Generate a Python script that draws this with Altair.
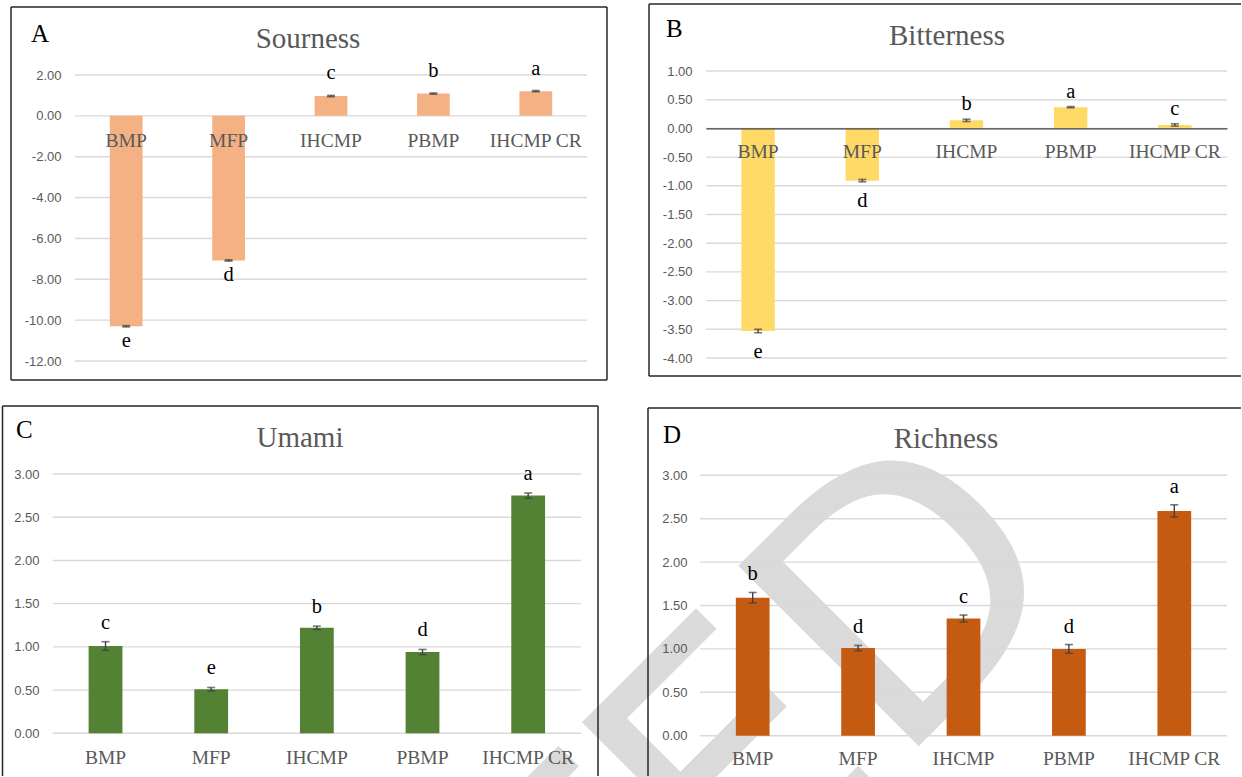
import altair as alt
import pandas as pd

# Sample groups shared by all four panels
groups = ["BMP", "MFP", "IHCMP", "PBMP", "IHCMP CR"]

# Taste scores (mean, error, significance letter)
sourness = [-10.30, -7.08, 0.97, 1.09, 1.21]
sourness_err = [0.03, 0.03, 0.03, 0.03, 0.03]
sourness_sig = ["e", "d", "c", "b", "a"]

bitterness = [-3.53, -0.91, 0.14, 0.37, 0.06]
bitterness_err = [0.03, 0.02, 0.02, 0.01, 0.02]
bitterness_sig = ["e", "d", "b", "a", "c"]

umami = [1.01, 0.51, 1.22, 0.94, 2.75]
umami_err = [0.05, 0.02, 0.02, 0.03, 0.03]
umami_sig = ["c", "e", "b", "d", "a"]

richness = [1.59, 1.01, 1.35, 1.00, 2.59]
richness_err = [0.06, 0.03, 0.04, 0.05, 0.07]
richness_sig = ["b", "d", "c", "d", "a"]

panel_letters = ["A", "B", "C", "D"]
panel_titles = ["Sourness", "Bitterness", "Umami", "Richness"]

sourness_ticks = [-12, -10, -8, -6, -4, -2, 0, 2]
bitterness_ticks = [-4, -3.5, -3, -2.5, -2, -1.5, -1, -0.5, 0, 0.5, 1]
score_ticks = [0, 0.5, 1, 1.5, 2, 2.5, 3]

watermark_text = "ACCEPTED"

# Layout of each panel cell (pixels inside its own cell)
LAYOUT = {
    "A": dict(w=628, h=392, xr=[75, 587], yr=[361, 75], yoff=-61, xoff=-276.1, xpad=15.2,
              zero_line=False, title_xy=(308, 48), letter_xy=(31, 42), dy_pos=-16, dy_neg=20,
              sides=[(11, 7, 607, 7), (11, 380, 607, 380), (11, 7, 11, 380), (607, 7, 607, 380)],
              wm=None),
    "B": dict(w=614, h=392, xr=[78, 599], yr=[358, 71], yoff=-64, xoff=-263.6, xpad=14.4,
              zero_line=True, title_xy=(319, 45), letter_xy=(38, 37), dy_pos=-9, dy_neg=25,
              sides=[(21, 4, 613, 4), (21, 376, 613, 376), (21, 4, 21, 376)],
              wm=None),
    "C": dict(w=628, h=385, xr=[52.7, 581], yr=[341.3, 82], yoff=-39, xoff=-43.7, xpad=14.8,
              zero_line=False, title_xy=(300, 55), letter_xy=(16, 46), dy_pos=-13, dy_neg=20,
              sides=[(2.5, 14, 598, 14), (2.5, 14, 2.5, 384), (598, 14, 598, 384)],
              wm=(1085, 188)),
    "D": dict(w=614, h=385, xr=[72, 599], yr=[343.7, 83.3], yoff=-59, xoff=-41.3, xpad=14.1,
              zero_line=False, title_xy=(318, 56), letter_xy=(35, 51), dy_pos=-12, dy_neg=20,
              sides=[(20, 16, 613, 16), (20, 16, 20, 384)],
              wm=(457, 188)),
}

GRAY_TEXT = "#595959"
ERR_COLOR = "#404040"


def make_panel(key, values, errs, sigs, title, ticks, color):
    lay = LAYOUT[key]
    df = pd.DataFrame({"group": groups, "value": values, "err": errs, "sig": sigs})
    df["lo"] = df["value"] - df["err"]
    df["hi"] = df["value"] + df["err"]

    xscale = alt.Scale(range=lay["xr"], paddingInner=0.68, paddingOuter=0.34)
    xaxis = alt.Axis(orient="bottom", offset=lay["xoff"], labelPadding=lay["xpad"],
                     ticks=False, tickSize=0, grid=False, domain=lay["zero_line"],
                     domainColor=ERR_COLOR, domainWidth=1.3, labelAngle=0,
                     labelFont="Liberation Serif", labelFontSize=19.5, labelColor=GRAY_TEXT,
                     labelOverlap=False, title=None, zindex=1)
    yscale = alt.Scale(domain=[ticks[0], ticks[-1]], range=lay["yr"], nice=False, zero=False)
    yaxis = alt.Axis(values=ticks, offset=lay["yoff"], labelPadding=0, ticks=False, tickSize=0,
                     grid=False, domain=False,
                     labelExpr="replace(format(datum.value, '.2f'), '\u2212', '-')",
                     labelFont="Liberation Sans", labelFontSize=13, labelColor=GRAY_TEXT,
                     labelOverlap=False, title=None, zindex=1)

    def X():
        return alt.X("group:N", sort=groups, scale=xscale, axis=xaxis)

    def Y(field):
        return alt.Y(f"{field}:Q", scale=yscale, axis=yaxis)

    layers = []
    one = pd.DataFrame({"t": [title]})

    # faint diagonal watermark, clipped to the cell
    if lay["wm"] is not None:
        wx, wy = lay["wm"]
        layers.append(
            alt.Chart(pd.DataFrame({"t": [watermark_text]}))
            .mark_text(font="DejaVu Sans", fontSize=350, color="#DADADA", angle=315,
                       align="right", baseline="alphabetic", clip=True)
            .encode(x=alt.value(wx), y=alt.value(wy), text="t:N")
        )

    # horizontal gridlines
    layers.append(
        alt.Chart(pd.DataFrame({"tick": ticks}))
        .mark_rule(color="#D9D9D9", strokeWidth=1.4)
        .encode(y=Y("tick"), x=alt.value(lay["xr"][0]), x2=alt.value(lay["xr"][1]))
    )

    base = alt.Chart(df)
    layers.append(base.mark_bar(color=color).encode(x=X(), y=Y("value"), y2=alt.datum(0)))
    layers.append(base.mark_rule(color=ERR_COLOR, strokeWidth=1.4)
                  .encode(x=X(), y=Y("lo"), y2=alt.Y2("hi:Q")))
    layers.append(base.mark_tick(color=ERR_COLOR, thickness=1.6, size=8).encode(x=X(), y=Y("lo")))
    layers.append(base.mark_tick(color=ERR_COLOR, thickness=1.6, size=8).encode(x=X(), y=Y("hi")))

    sig_style = dict(font="Liberation Serif", fontSize=20.5, color="black", baseline="alphabetic")
    layers.append(base.transform_filter("datum.value >= 0")
                  .mark_text(dy=lay["dy_pos"], **sig_style)
                  .encode(x=X(), y=Y("hi"), text="sig:N"))
    layers.append(base.transform_filter("datum.value < 0")
                  .mark_text(dy=lay["dy_neg"], **sig_style)
                  .encode(x=X(), y=Y("lo"), text="sig:N"))

    tx, ty = lay["title_xy"]
    layers.append(alt.Chart(one).mark_text(font="Liberation Serif", fontSize=29, color=GRAY_TEXT,
                                           align="center", baseline="alphabetic")
                  .encode(x=alt.value(tx), y=alt.value(ty), text="t:N"))
    lx, ly = lay["letter_xy"]
    layers.append(alt.Chart(pd.DataFrame({"t": [key]}))
                  .mark_text(font="Liberation Serif", fontSize=25, color="black",
                             align="left", baseline="alphabetic")
                  .encode(x=alt.value(lx), y=alt.value(ly), text="t:N"))

    # panel frame
    for (x1, y1, x2, y2) in lay["sides"]:
        layers.append(alt.Chart(one).mark_rule(color="#262626", strokeWidth=1.5)
                      .encode(x=alt.value(x1), x2=alt.value(x2), y=alt.value(y1), y2=alt.value(y2)))

    return alt.layer(*layers).properties(width=lay["w"], height=lay["h"])


pA = make_panel(panel_letters[0], sourness, sourness_err, sourness_sig, panel_titles[0],
                sourness_ticks, "#F4B183")
pB = make_panel(panel_letters[1], bitterness, bitterness_err, bitterness_sig, panel_titles[1],
                bitterness_ticks, "#FFD966")
pC = make_panel(panel_letters[2], umami, umami_err, umami_sig, panel_titles[2],
                score_ticks, "#548235")
pD = make_panel(panel_letters[3], richness, richness_err, richness_sig, panel_titles[3],
                score_ticks, "#C55A11")

row1 = alt.hconcat(pA, pB, spacing=0, bounds="flush")
row2 = alt.hconcat(pC, pD, spacing=0, bounds="flush")
chart = (
    alt.vconcat(row1, row2, spacing=0)
    .properties(padding=0, background="white")
    .configure_view(strokeWidth=0)
)

chart.save("out.html", embed_options={"renderer": "svg", "actions": False})
